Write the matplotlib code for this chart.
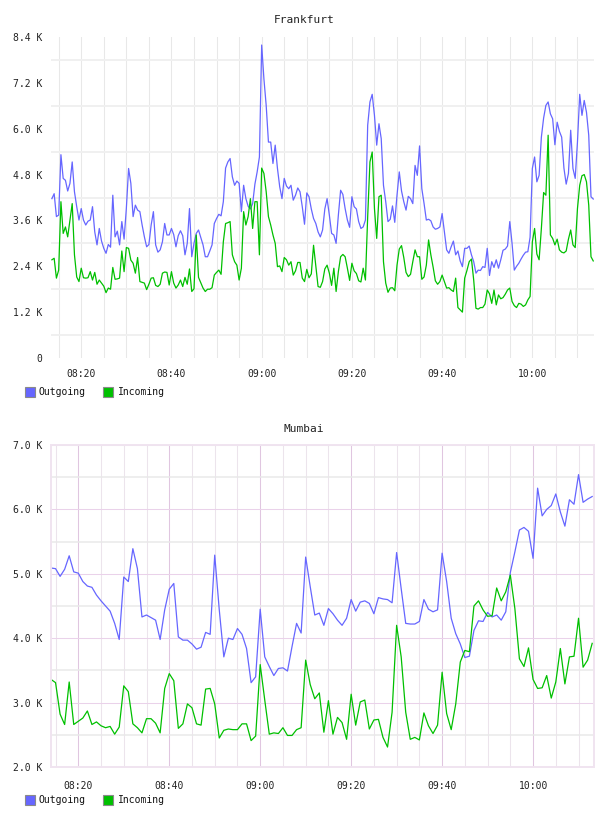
import matplotlib

matplotlib.use("Agg")
import matplotlib.dates as mdates
import matplotlib.pyplot as plt
import pandas as pd
from matplotlib.patches import Rectangle
from matplotlib.ticker import FixedLocator, FuncFormatter

# Frankfurt: 30 s samples starting 08:13:30
FRA_START = "2024-01-01 08:13:30"
FRA_STEP = "30s"
FRA_OUT = [
    4170, 4300, 3700, 3740, 5320, 4700, 4650, 4370, 4570, 5130,
    4350, 3960, 3610, 3910, 3610, 3480, 3580, 3610, 3960, 3300,
    2960, 3390, 3060, 2870, 2740, 2970, 2900, 4260, 3170, 3320,
    2960, 3570, 3110, 3910, 4960, 4570, 3700, 4000, 3870, 3830,
    3480, 3170, 2910, 2970, 3480, 3830, 2960, 2770, 2830, 3040,
    3520, 3220, 3220, 3390, 3230, 2910, 3200, 3330, 3200, 2700,
    3000, 3910, 2650, 3000, 3260, 3350, 3150, 2960, 2650, 2650,
    2800, 2960, 3520, 3650, 3760, 3720, 4090, 4970, 5130, 5220,
    4740, 4520, 4630, 4570, 3830, 4520, 4170, 3970, 3900, 4040,
    4550, 4870, 5260, 8190, 7300, 6610, 5650, 5650, 5090, 5570,
    4960, 4480, 4170, 4700, 4500, 4430, 4520, 4130, 4260, 4450,
    4350, 3960, 3500, 4320, 4220, 3900, 3650, 3520, 3300, 3170,
    3350, 3900, 4170, 3740, 3260, 3220, 3000, 3740, 4390, 4280,
    3910, 3610, 3420, 4220, 3960, 3900, 3570, 3390, 3430, 3610,
    6090, 6700, 6900, 6350, 5570, 6130, 5740, 4520, 4090, 3570,
    3630, 3980, 3550, 4260, 4870, 4370, 4090, 3870, 4230, 4170,
    4040, 5040, 4780, 5550, 4430, 4040, 3610, 3630, 3590, 3430,
    3370, 3390, 3430, 3780, 3300, 2830, 2740, 2910, 3060, 2700,
    2800, 2540, 2390, 2870, 2870, 2930, 2700, 2520, 2220, 2300,
    2290, 2390, 2370, 2870, 2160, 2520, 2370, 2570, 2350, 2570,
    2820, 2850, 2930, 3570, 3000, 2300, 2400, 2480, 2590, 2690,
    2770, 2780, 3160, 4960, 5260, 4610, 4780, 5780, 6280, 6610,
    6700, 6390, 6260, 5580, 6170, 5930, 5780, 4970, 4550, 4830,
    5960, 4960, 4700, 5650, 6900, 6350, 6740, 6430, 5830, 4220,
    4160,
]
FRA_IN = [
    2570, 2610, 2090, 2300, 4090, 3260, 3430, 3170, 3610, 4040,
    2700, 2120, 2000, 2350, 2100, 2090, 2100, 2260, 2040, 2240,
    1930, 2040, 1960, 1880, 1710, 1830, 1800, 2370, 2060, 2070,
    2090, 2800, 2260, 2890, 2870, 2560, 2480, 2220, 2630, 2000,
    1980, 1960, 1790, 1930, 2090, 2100, 1900, 1870, 1930, 2220,
    2250, 2240, 1910, 2260, 1960, 1830, 1910, 2040, 1870, 2110,
    1930, 2330, 1740, 1810, 3220, 2110, 1970, 1830, 1740, 1800,
    1800, 1840, 2170, 2240, 2300, 2190, 3040, 3520, 3540, 3570,
    2700, 2520, 2430, 2040, 2350, 3830, 3480, 3700, 4170, 3390,
    4090, 4090, 2700, 4970, 4830, 4350, 3700, 3480, 3220, 3000,
    2390, 2410, 2260, 2630, 2570, 2430, 2520, 2170, 2280, 2500,
    2500, 2090, 2000, 2320, 2100, 2200, 2950, 2400, 1870, 1850,
    2000, 2330, 2430, 2220, 1900, 2350, 1740, 2260, 2650, 2710,
    2650, 2350, 2030, 2480, 2280, 2210, 2020, 1990, 2350, 2040,
    3700, 5130, 5390, 3910, 3130, 4220, 4260, 2520, 1960, 1720,
    1830, 1840, 1760, 2430, 2850, 2940, 2630, 2240, 2130, 2190,
    2520, 2830, 2650, 2650, 2060, 2120, 2430, 3090, 2700, 2380,
    2020, 1930, 2000, 2170, 2000, 1830, 1840, 1780, 1740, 2090,
    1320, 1260, 1200, 2090, 2290, 2520, 2590, 2040, 1300, 1280,
    1320, 1320, 1410, 1780, 1680, 1430, 1780, 1390, 1650, 1550,
    1580, 1670, 1780, 1830, 1480, 1370, 1320, 1430, 1410, 1350,
    1390, 1520, 1610, 3040, 3390, 2720, 2570, 3390, 4330, 4260,
    5830, 3220, 3130, 2960, 3110, 2830, 2770, 2750, 2800, 3110,
    3350, 2960, 2890, 3910, 4520, 4770, 4800, 4610, 4000, 2650,
    2540,
]

# Mumbai: 1 min samples starting 08:14
MUM_START = "2024-01-01 08:14:00"
MUM_STEP = "1min"
MUM_OUT = [
    5090, 5080, 4960, 5070, 5280, 5030, 5010, 4880, 4810, 4790,
    4670, 4580, 4500, 4420, 4230, 3980, 4950, 4880, 5390, 5080,
    4330, 4360, 4320, 4280, 3980, 4440, 4760, 4850, 4020, 3970,
    3970, 3910, 3830, 3860, 4090, 4060, 5290, 4440, 3710, 4000,
    3980, 4150, 4060, 3840, 3310, 3400, 4450, 3710, 3560, 3420,
    3530, 3540, 3490, 3870, 4230, 4080, 5260, 4800, 4360, 4390,
    4200, 4460, 4380, 4280, 4200, 4310, 4600, 4420, 4560, 4580,
    4540, 4380, 4630, 4610, 4600, 4550, 5330, 4770, 4230, 4220,
    4220, 4260, 4600, 4450, 4410, 4440, 5320, 4880, 4310, 4070,
    3910, 3700, 3720, 4120, 4270, 4260, 4400, 4330, 4360, 4280,
    4410, 5020, 5340, 5680, 5720, 5660, 5240, 6330, 5900, 6000,
    6060, 6240, 5960, 5740, 6150, 6080, 6540, 6110, 6160, 6200,
]
MUM_IN = [
    3360, 3310, 2820, 2660, 3320, 2660, 2710, 2760, 2870, 2660,
    2700, 2640, 2610, 2630, 2510, 2620, 3260, 3170, 2670, 2610,
    2530, 2750, 2750, 2680, 2530, 3220, 3450, 3340, 2600, 2670,
    2980, 2920, 2670, 2650, 3210, 3220, 2980, 2450, 2570, 2590,
    2580, 2580, 2670, 2670, 2410, 2480, 3590, 3040, 2510, 2530,
    2520, 2610, 2490, 2490, 2580, 2610, 3660, 3280, 3060, 3150,
    2540, 3030, 2510, 2770, 2690, 2430, 3130, 2650, 3010, 3040,
    2590, 2730, 2740, 2460, 2310, 2850, 4200, 3710, 2850, 2430,
    2460, 2420, 2840, 2640, 2520, 2650, 3470, 2830, 2580, 2980,
    3630, 3810, 3790, 4500, 4580, 4440, 4340, 4350, 4780, 4580,
    4720, 4980, 4460, 3680, 3560, 3850, 3360, 3220, 3230, 3420,
    3070, 3320, 3840, 3290, 3710, 3720, 4310, 3550, 3660, 3920,
]

SERIES = ["Outgoing", "Incoming"]
COLORS = {"Outgoing": "#6666ff", "Incoming": "#00c000"}
MONO = "DejaVu Sans Mono"

W, H = 608, 816
fig = plt.figure(figsize=(W / 100, H / 100), dpi=100)


def px_box(left, top, right, bottom):
    return [left / W, 1 - bottom / H, (right - left) / W, (bottom - top) / H]


def k_label(v, _pos=None):
    return "0" if v == 0 else f"{v / 1000:.1f} K"


def draw_legend(y_px):
    for name, x_box, x_txt in zip(SERIES, (24.5, 102.5), (38.5, 117.5)):
        fig.add_artist(Rectangle((x_box / W, 1 - (y_px + 5) / H), 10 / W, 10 / H,
                                 transform=fig.transFigure, facecolor=COLORS[name],
                                 edgecolor="#8a8a8a", lw=0.8))
        fig.text(x_txt / W, 1 - y_px / H, name, family=MONO, fontsize=7,
                 color="#111111", va="center", ha="left")


def panel(box, title, title_y, times, out, inc, xlim, ylim, majors, minors, mumbai):
    ax = fig.add_axes(box)
    ax.set_axisbelow(True)
    ax.plot(times, out, color=COLORS["Outgoing"], lw=0.9)
    ax.plot(times, inc, color=COLORS["Incoming"], lw=0.9)
    ax.set_xlim(pd.Timestamp(xlim[0]), pd.Timestamp(xlim[1]))
    ax.set_ylim(*ylim)

    ax.xaxis.set_major_locator(mdates.MinuteLocator(byminute=[0, 20, 40]))
    ax.xaxis.set_minor_locator(mdates.MinuteLocator(byminute=range(0, 60, 5)))
    ax.xaxis.set_major_formatter(mdates.DateFormatter("%H:%M"))
    ax.yaxis.set_major_locator(FixedLocator(majors))
    ax.yaxis.set_minor_locator(FixedLocator(minors))
    ax.yaxis.set_major_formatter(FuncFormatter(k_label))
    ax.tick_params(which="both", length=0, labelsize=7, colors="#222222")
    ax.tick_params(axis="y", pad=6)
    ax.tick_params(axis="x", pad=8 if not mumbai else 10)
    for lab in ax.get_xticklabels() + ax.get_yticklabels():
        lab.set_family(MONO)

    if mumbai:
        ax.grid(which="major", axis="x", color="#e0c6e0", lw=0.75)
        ax.grid(which="minor", axis="x", color="#ece4ec", lw=0.75)
        ax.grid(which="major", axis="y", color="#ead2ea", lw=0.75)
        ax.grid(which="minor", axis="y", color="#e9e9e9", lw=1.1)
        for sp in ax.spines.values():
            sp.set_color("#f0e4f0")
            sp.set_linewidth(1.4)
    else:
        ax.grid(which="both", axis="x", color="#e8e8e8", lw=0.75)
        ax.grid(which="minor", axis="y", color="#f0f0f0", lw=1.4)
        for sp in ax.spines.values():
            sp.set_visible(False)

    fig.text(0.5, 1 - title_y / H, title, family=MONO, fontsize=8, color="#222222",
             ha="center", va="center")
    return ax


fra_t = pd.date_range(FRA_START, periods=len(FRA_OUT), freq=FRA_STEP)
mum_t = pd.date_range(MUM_START, periods=len(MUM_OUT), freq=MUM_STEP)

panel(px_box(51, 37, 594, 358), "Frankfurt", 20, fra_t, FRA_OUT, FRA_IN,
      ("2024-01-01 08:13:18", "2024-01-01 10:13:40"), (0, 8400),
      list(range(0, 8401, 1200)), list(range(600, 8400, 1200)), False)
draw_legend(392)

panel(px_box(51, 445, 594, 767), "Mumbai", 429, mum_t, MUM_OUT, MUM_IN,
      ("2024-01-01 08:14:00", "2024-01-01 10:13:24"), (2000, 7000),
      list(range(2000, 7001, 1000)), list(range(2500, 7000, 1000)), True)
draw_legend(800)

fig.savefig("out.png", dpi=100, facecolor="white")
